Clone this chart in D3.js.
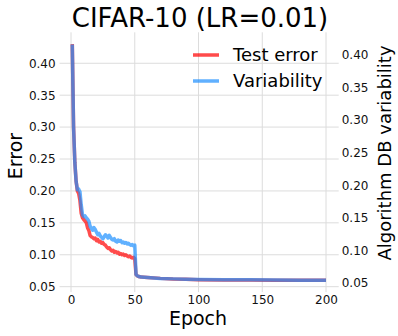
<!DOCTYPE html>
<html>
<head>
<meta charset="utf-8">
<script src="https://cdn.jsdelivr.net/npm/d3@7"></script>
<style>
  body { margin: 0; background: white; }
  svg { font-family: "DejaVu Sans", sans-serif; }
</style>
</head>
<body>
<svg id="chart" width="398" height="336"></svg>
<script>
// epochs (dense until the LR drop, then sparse)
let epochs = [1,2,3,4,5,6,7,8,9,10,11,12,13,14,15,16,17,18,19,20,
	21,22,23,24,25,26,27,28,29,30,31,32,33,34,35,36,37,38,39,40,
	41,42,43,44,45,46,47,48,49,50,51,52,53,54,55,60,70,80,90,100,120,140,160,180,200];

// test error (left axis)
let testError = [0.430,0.300,0.245,0.215,0.200,0.196,0.185,0.165,0.158,0.155,
	0.153,0.150,0.142,0.138,0.130,0.128,0.127,0.125,0.126,0.122,
	0.124,0.120,0.121,0.118,0.119,0.116,0.115,0.112,0.110,0.111,
	0.108,0.106,0.107,0.104,0.105,0.103,0.104,0.101,0.102,0.100,
	0.101,0.099,0.100,0.098,0.097,0.098,0.096,0.095,0.096,0.094,
	0.069,0.067,0.066,0.0655,0.065,0.0645,0.063,0.062,0.0615,0.061,0.0605,0.0603,0.0600,0.0600,0.0600];

// algorithm DB variability (right axis)
let variability = [0.416,0.289,0.235,0.206,0.193,0.194,0.190,0.170,0.155,0.152,
	0.153,0.150,0.148,0.145,0.137,0.134,0.131,0.135,0.132,0.128,
	0.124,0.126,0.122,0.120,0.118,0.121,0.124,0.122,0.119,0.123,
	0.120,0.117,0.116,0.118,0.114,0.113,0.116,0.114,0.115,0.112,
	0.113,0.111,0.112,0.110,0.111,0.109,0.108,0.109,0.107,0.108,
	0.063,0.061,0.060,0.0595,0.059,0.0585,0.057,0.0563,0.0558,0.0553,0.0550,0.0548,0.0545,0.0543,0.0542];

let xTicks = [0, 50, 100, 150, 200];
let yTicks = [0.05, 0.10, 0.15, 0.20, 0.25, 0.30, 0.35, 0.40];
let seriesNames = ["Test error", "Variability"];
let seriesColors = ["#ff0000", "#1e90ff"];

let svg = d3.select("#chart");

let x = d3.scaleLinear().domain([-8.95, 209.95]).range([59.6, 338.7]);
let yLeft = d3.scaleLinear().domain([0.0415, 0.4485]).range([292.1, 32.3]);
let yRight = d3.scaleLinear().domain([0.036, 0.4348]).range([292.1, 32.3]);

let plotLeft = x.range()[0], plotRight = x.range()[1];
let plotTop = yLeft.range()[1], plotBottom = yLeft.range()[0];

// grid
svg.append("g")
	.selectAll("line")
	.data(xTicks)
	.enter().append("line")
	.attr("x1", d => x(d)).attr("x2", d => x(d))
	.attr("y1", plotTop).attr("y2", plotBottom)
	.attr("stroke", "#dcdcdc")
	.attr("stroke-width", 1);

svg.append("g")
	.selectAll("line")
	.data(yTicks)
	.enter().append("line")
	.attr("x1", plotLeft).attr("x2", plotRight)
	.attr("y1", d => yLeft(d)).attr("y2", d => yLeft(d))
	.attr("stroke", "#dcdcdc")
	.attr("stroke-width", 1);

// axes (labels only, no spines)
function styleAxis(g) {
	g.attr("font-family", null).attr("font-size", null);
	g.select(".domain").remove();
	g.selectAll("text").style("font-size", "12px").attr("fill", "#111");
}

svg.append("g")
	.attr("transform", "translate(0," + plotBottom + ")")
	.call(d3.axisBottom(x).tickValues(xTicks).tickSize(0).tickPadding(3).tickFormat(d3.format("d")))
	.call(styleAxis);

svg.append("g")
	.attr("transform", "translate(" + plotLeft + ",0)")
	.call(d3.axisLeft(yLeft).tickValues(yTicks).tickSize(0).tickPadding(4).tickFormat(d3.format(".2f")))
	.call(styleAxis);

svg.append("g")
	.attr("transform", "translate(" + plotRight + ",0)")
	.call(d3.axisRight(yRight).tickValues(yTicks).tickSize(0).tickPadding(3).tickFormat(d3.format(".2f")))
	.call(styleAxis);

// lines
let errLine = d3.line()
	.x((d, i) => x(epochs[i]))
	.y(d => yLeft(d));

let varLine = d3.line()
	.x((d, i) => x(epochs[i]))
	.y(d => yRight(d));

svg.append("path")
	.attr("d", errLine(testError))
	.attr("fill", "none")
	.attr("stroke", seriesColors[0])
	.attr("stroke-width", 3.5)
	.attr("stroke-linejoin", "round")
	.attr("opacity", 0.7);

svg.append("path")
	.attr("d", varLine(variability))
	.attr("fill", "none")
	.attr("stroke", seriesColors[1])
	.attr("stroke-width", 3.5)
	.attr("stroke-linejoin", "round")
	.attr("opacity", 0.7);

// legend
let legend = svg.append("g").selectAll("g")
	.data(seriesNames)
	.enter().append("g")
	.attr("transform", (d, i) => "translate(193," + (55 + i*26) + ")");

legend.append("line")
	.attr("x1", 0).attr("x2", 26)
	.attr("stroke", (d, i) => seriesColors[i])
	.attr("stroke-width", 3.5)
	.attr("opacity", 0.7);

legend.append("text")
	.attr("x", 40)
	.attr("dy", "0.36em")
	.style("font-size", "18px")
	.text(d => d);

// title
svg.append("text")
	.attr("x", 200)
	.attr("y", 27)
	.style("text-anchor", "middle")
	.style("font-size", "26px")
	.text("CIFAR-10 (LR=0.01)");

// x label
svg.append("text")
	.attr("x", 198)
	.attr("y", 325)
	.style("text-anchor", "middle")
	.style("font-size", "19px")
	.text("Epoch");

// left y label
svg.append("text")
	.attr("transform", "translate(22,156) rotate(-90)")
	.style("text-anchor", "middle")
	.style("font-size", "19px")
	.text("Error");

// right y label
svg.append("text")
	.attr("transform", "translate(391,153) rotate(-90)")
	.style("text-anchor", "middle")
	.style("font-size", "18px")
	.text("Algorithm DB variability");
</script>
</body>
</html>
